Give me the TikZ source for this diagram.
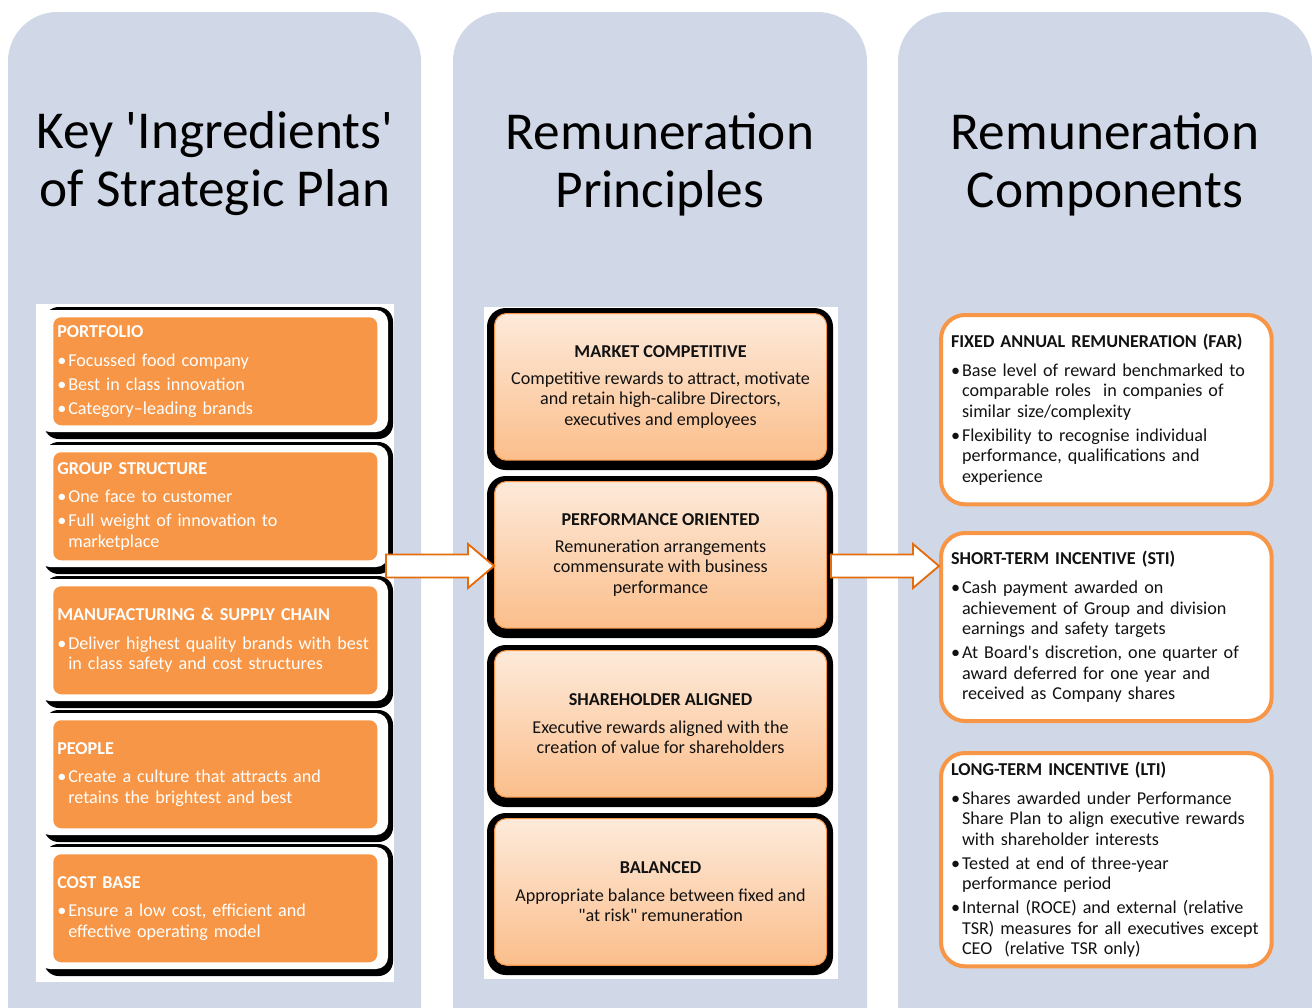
\documentclass[tikz,border=0pt]{standalone}
\usepackage{fontspec}
\setmainfont{Carlito}
\usetikzlibrary{calc}

\definecolor{colbg}{HTML}{D0D8E8}
\definecolor{cardor}{HTML}{F79646}
\definecolor{peachtop}{HTML}{FDEADA}
\definecolor{peachbot}{HTML}{FBBE8B}
\definecolor{arrowor}{HTML}{E46C0A}
\definecolor{inkdark}{HTML}{121212}

% bullet paragraph with hanging indent, heading line above the bullets
\newcommand{\bul}[1]{\vspace{2.6pt}\hangindent=8.25pt\hangafter=1\noindent\makebox[8.25pt][l]{\textbullet}#1\par}
\newcommand{\cardhead}[1]{\noindent\textbf{#1}\par\vspace{3.6pt}}

% horizontal block arrow from #1 to the tip #2
\newcommand{\blockarrow}[2]{%
    \draw[blockarrow] let \p1=(#1), \p2=(#2) in
        (\x1,\y2+8.6pt) -- (\x2-19.5pt,\y2+8.6pt) -- (\x2-19.5pt,\y2+16.5pt) -- (\x2,\y2)
        -- (\x2-19.5pt,\y2-16.5pt) -- (\x2-19.5pt,\y2-8.6pt) -- (\x1,\y2-8.6pt) -- cycle;}

\tikzset{
    column/.style={fill=colbg, rounded corners=37pt},
    title/.style={align=center, font=\fontsize{40}{43.5}\selectfont},
    leftcard/.style={anchor=north west, rounded corners=6pt, fill=cardor, text=white,
        minimum width=243pt, minimum height=81pt, text width=237pt, inner xsep=3pt,
        align=left, font=\fontsize{13.6}{15.4}\selectfont},
    midcard/.style={anchor=north west, rounded corners=9pt, draw=cardor, line width=0.8pt,
        top color=peachtop, bottom color=peachbot, text=inkdark,
        minimum width=249pt, minimum height=110pt, align=center,
        font=\fontsize{13.6}{15.4}\selectfont},
    rightcard/.style={anchor=north west, rounded corners=18pt, draw=cardor, line width=3pt,
        fill=white, text=inkdark, minimum width=248pt, text width=233pt, inner xsep=7.5pt,
        align=left, font=\fontsize{13.6}{15.4}\selectfont},
    blockarrow/.style={draw=arrowor, fill=white, line width=1.4pt, line join=miter},
}

\begin{document}
\begin{tikzpicture}[x=0.75pt, y=-0.75pt]
    \useasboundingbox (0,0) rectangle (1312,1007);

    % three columns
    \fill[column] (8,12) rectangle (421,1060);
    \fill[column] (453,12) rectangle (867,1060);
    \fill[column] (898,12) rectangle (1312,1060);

    \node[title] (t1) at (215,164) {Key \textquotesingle Ingredients\textquotesingle\\of Strategic Plan};
    \node[title] (t2) at (660,164) {Remuneration\\Principles};
    \node[title] (t3) at (1105,164) {Remuneration\\Components};

    % LEFT: strategic plan cards
    \fill[white] (36,304) rectangle (394,982);
    \foreach \t in {316,451,585,719,853} {
        \fill[black, rounded corners=11pt] (44,\t-9) rectangle (393,\t+123);
        \fill[white, rounded corners=9pt] (38,\t-6) rectangle (388,\t+116);
    }
    \node[leftcard] (port) at (53,317) {\cardhead{PORTFOLIO}
        \bul{Focussed food company}
        \bul{Best in class innovation}
        \bul{Category--leading brands}};
    \node[leftcard] (grp) at (53,452) {\cardhead{GROUP STRUCTURE}
        \bul{One face to customer}
        \bul{Full weight of innovation to\newline marketplace}};
    \node[leftcard] (mfg) at (53,586) {\cardhead{MANUFACTURING \& SUPPLY CHAIN}
        \bul{Deliver highest quality brands with best\newline in class safety and cost structures}};
    \node[leftcard] (ppl) at (53,720) {\cardhead{PEOPLE}
        \bul{Create a culture that attracts and\newline retains the brightest and best}};
    \node[leftcard] (cost) at (53,854) {\cardhead{COST BASE}
        \bul{Ensure a low cost, efficient and\newline effective operating model}};

    % MIDDLE: principles
    \fill[white] (484,307) rectangle (838,979);
    \foreach \t in {313,481,650,818} {
        \fill[black, rounded corners=14pt] (487,\t-5) rectangle (833,\t+157);
    }
    \node[midcard] (mkt) at (494,313) {\textbf{MARKET COMPETITIVE}\\[5pt]
        Competitive rewards to attract, motivate\\and retain high-calibre Directors,\\executives and employees};
    \node[midcard] (perf) at (494,481) {\textbf{PERFORMANCE ORIENTED}\\[5pt]
        Remuneration arrangements\\commensurate with business\\performance};
    \node[midcard] (shr) at (494,650) {\textbf{SHAREHOLDER ALIGNED}\\[5pt]
        Executive rewards aligned with the\\creation of value for shareholders};
    \node[midcard] (bal) at (494,818) {\textbf{BALANCED}\\[5pt]
        Appropriate balance between fixed and\\\textquotedbl at risk\textquotedbl{} remuneration};

    % RIGHT: components
    \node[rightcard, minimum height=142pt] (far) at (939,313) {\cardhead{FIXED ANNUAL REMUNERATION (FAR)}
        \bul{Base level of reward benchmarked to\newline comparable roles~ in companies of\newline similar size/complexity}
        \bul{Flexibility to recognise individual\newline performance, qualifications and\newline experience}};
    \node[rightcard, minimum height=141pt] (sti) at (939,531) {\cardhead{SHORT-TERM INCENTIVE (STI)}
        \bul{Cash payment awarded on\newline achievement of Group and division\newline earnings and safety targets}
        \bul{At Board\textquotesingle s discretion, one quarter of\newline award deferred for one year and\newline received as Company shares}};
    \node[rightcard, minimum height=160pt] (lti) at (939,751) {\cardhead{LONG-TERM INCENTIVE (LTI)}
        \bul{Shares awarded under Performance\newline Share Plan to align executive rewards\newline with shareholder interests}
        \bul{Tested at end of three-year\newline performance period}
        \bul{Internal (ROCE) and external (relative\newline TSR) measures for all executives except\newline CEO~ (relative TSR only)}};

    % arrows between the columns
    \coordinate (arrL) at (386,566);
    \coordinate (arrR) at (831,566);
    \blockarrow{arrL}{arrL -| perf.west}
    \blockarrow{arrR}{arrR -| sti.west}
\end{tikzpicture}
\end{document}
